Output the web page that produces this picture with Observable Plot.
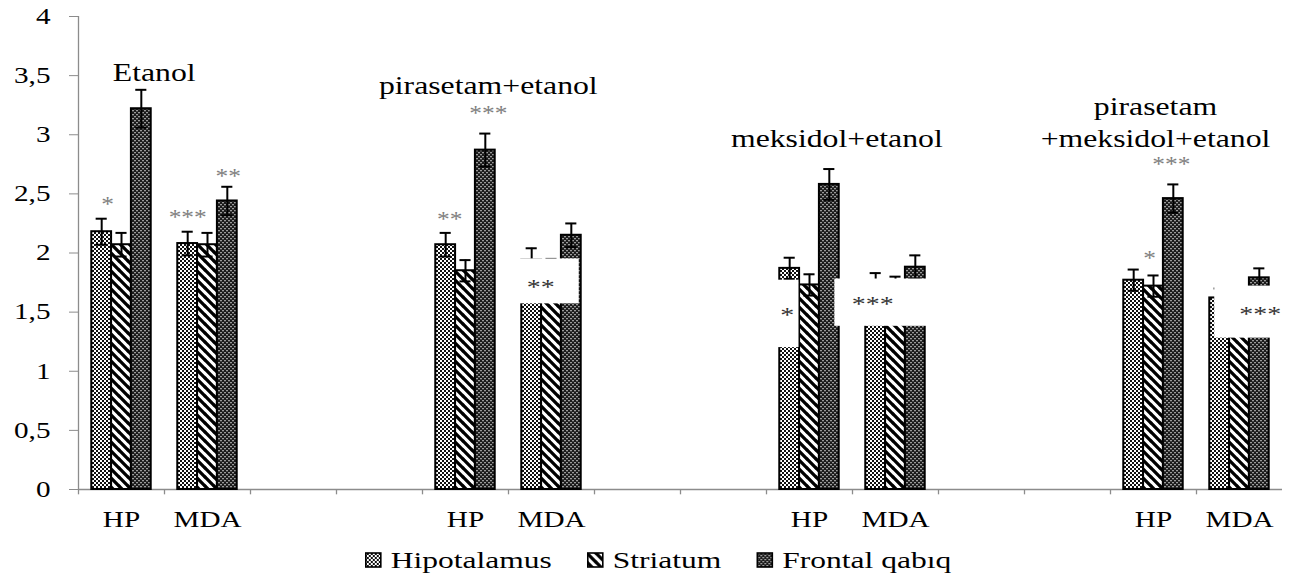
<!DOCTYPE html>
<html><head><meta charset="utf-8">
<script src="https://cdn.jsdelivr.net/npm/d3@7"></script>
<script src="https://cdn.jsdelivr.net/npm/@observablehq/plot@0.6"></script>
<style>body{margin:0;background:#fff;} svg{display:block;} #chart svg text{font-family:"Liberation Serif","Tinos","Times New Roman","DejaVu Serif",serif !important;}</style>
</head><body><div id="chart"></div><script>
// ---------------- data ----------------
const slotLabels = ["HP","MDA","","","HP","MDA","","","HP","MDA","","","HP","MDA"];
const series = ["Hipotalamus","Striatum","Frontal qabıq"];
const barSlots = [0,1,4,5,8,9,12,13]; // HP / MDA of each of the 4 groups
const hipoMean  = [2.18,2.08,2.07,1.94,1.87,1.75,1.77,1.62];
const hipoSE    = [0.11,0.10,0.10,0.10,0.09,0.08,0.09,0.08];
const striMean  = [2.07,2.07,1.85,1.86,1.73,1.72,1.72,1.60];
const striSE    = [0.10,0.10,0.09,0.09,0.09,0.08,0.09,0.08];
const frontMean = [3.22,2.44,2.87,2.15,2.58,1.88,2.46,1.79];
const frontSE   = [0.16,0.12,0.14,0.10,0.13,0.10,0.12,0.08];
const yTicks = [0,0.5,1,1.5,2,2.5,3,3.5,4];

// group titles (slot, position inside slot in bar units, value)
const titleText = ["Etanol","pirasetam+etanol","meksidol+etanol","pirasetam\n+meksidol+etanol"];
const titleSlot = [0,4,8,12];
const titlePos  = [2.65,2.15,2.38,1.1];
const titleY    = [3.54,3.43,2.98,3.115];
// significance stars
const starText = ["*","***","**","**","***","*","***"];
const starSlot = [0,1,1,4,4,12,12];
const starPos  = [0.3,0.0,2.05,0.2,2.15,0.8,1.9];
const starY    = [2.44,2.33,2.68,2.32,3.21,1.99,2.78];
// white label boxes pasted over the bars, with their stars
const boxSlot = [5,8,9,13];
const boxX1 = [-0.62,-1.1,-2.06,-0.25];
const boxX2 = [2.4,0.47,2.6,3.5];
const boxY1 = [1.57,1.20,1.38,1.28];
const boxY2 = [1.95,1.77,1.78,1.72];
const boxText = ["**","*","***","***"];
const boxTextPos = [0.46,-0.13,-0.15,2.05];
const boxTextY = [1.75,1.51,1.60,1.52];

// ---------------- tables ----------------
const means = [hipoMean, striMean, frontMean];
const ses = [hipoSE, striSE, frontSE];
const bars = [];
series.forEach((s, si) => barSlots.forEach((slot, k) =>
  bars.push({series: s, si, slot, v: means[si][k], se: ses[si][k]})));
const slotsData = slotLabels.map((label, slot) => ({slot, label}));
const titles = titleText.map((t, i) => ({t, slot: titleSlot[i], x: titlePos[i], y: titleY[i]}));
const stars = starText.map((t, i) => ({t, slot: starSlot[i], x: starPos[i], y: starY[i]}));
const boxes = boxText.map((t, i) => ({t, slot: boxSlot[i], x1: boxX1[i], x2: boxX2[i], y1: boxY1[i], y2: boxY2[i], tx: boxTextPos[i], ty: boxTextY[i]}));

const FONT = "Liberation Serif, Tinos, Times New Roman, DejaVu Serif, serif";
const xDomain = [-1.17, 3.17];
const patternId = {"Hipotalamus": "pat-hipo", "Striatum": "pat-stri", "Frontal qabıq": "pat-front"};
const AX = "#8c8c8c";

const svg = Plot.plot({
  width: 1297, height: 535,
  marginTop: 16, marginBottom: 46, marginLeft: 76, marginRight: 13,
  style: {fontFamily: FONT, fontSize: "23px", background: "white", color: "black", overflow: "visible"},
  fx: {domain: d3.range(14), paddingInner: 0, paddingOuter: 0, axis: null, label: null},
  x: {domain: xDomain, axis: null},
  y: {domain: [0, 4], axis: null},
  marks: [
    Plot.ruleY([0], {stroke: AX, strokeWidth: 1.5}),
    Plot.ruleX(slotsData, {fx: "slot", x: () => xDomain[0], y1: 0, y2: -0.045, stroke: AX, strokeWidth: 1.3}),
    Plot.ruleX([{slot: 0}], {fx: "slot", x: () => xDomain[0], y1: 0, y2: 4, stroke: AX, strokeWidth: 1.3}),
    Plot.axisY({ticks: yTicks, tickFormat: d => String(d).replace(".", ","), tickSize: 9, tickPadding: 19,
      stroke: AX, fill: "black", fontSize: 23, label: null}),
    ...series.map(s => Plot.rect(bars.filter(d => d.series === s), {
      fx: "slot", x1: d => d.si - 0.5, x2: d => d.si + 0.5, y1: 0, y2: "v",
      fill: `url(#${patternId[s]})`, stroke: "black", strokeWidth: 2})),
    Plot.ruleX(bars, {fx: "slot", x: "si", y1: d => d.v - d.se, y2: d => d.v + d.se, stroke: "black", strokeWidth: 2}),
    Plot.ruleY(bars, {fx: "slot", y: d => d.v + d.se, x1: d => d.si - 0.28, x2: d => d.si + 0.28, stroke: "black", strokeWidth: 2}),
    Plot.ruleY(bars, {fx: "slot", y: d => d.v - d.se, x1: d => d.si - 0.28, x2: d => d.si + 0.28, stroke: "black", strokeWidth: 2}),
    Plot.rect(boxes, {fx: "slot", x1: "x1", x2: "x2", y1: "y1", y2: "y2", fill: "white"}),
    Plot.text(boxes, {fx: "slot", x: "tx", y: "ty", text: "t", fontSize: 22, fill: "#333", dy: 4}),
    Plot.text(stars, {fx: "slot", x: "x", y: "y", text: "t", fontSize: 20, fill: "#808080", dy: 4}),
    Plot.text(titles, {fx: "slot", x: "x", y: "y", text: "t", fontSize: 25, lineHeight: 1.27, fill: "black"}),
    Plot.text(slotsData, {fx: "slot", x: () => 1, y: () => 0, text: "label", dy: 30, fontSize: 23, fill: "black"})
  ]
});

// patterns
const defs = d3.select(svg).insert("defs", ":first-child");
const ph = defs.append("pattern").attr("id", "pat-hipo").attr("patternUnits", "userSpaceOnUse").attr("width", 4).attr("height", 4);
ph.append("rect").attr("width", 4).attr("height", 4).attr("fill", "white");
ph.append("rect").attr("width", 2).attr("height", 2).attr("fill", "#111");
ph.append("rect").attr("x", 2).attr("y", 2).attr("width", 2).attr("height", 2).attr("fill", "#111");
const ps = defs.append("pattern").attr("id", "pat-stri").attr("patternUnits", "userSpaceOnUse").attr("width", 9).attr("height", 9);
ps.append("rect").attr("width", 9).attr("height", 9).attr("fill", "white");
ps.append("path").attr("d", "M-1,-1L10,10M-1,8L1,10M8,-1L10,1").attr("stroke", "black").attr("stroke-width", 3.3);
const pf = defs.append("pattern").attr("id", "pat-front").attr("patternUnits", "userSpaceOnUse").attr("width", 4).attr("height", 4);
pf.append("rect").attr("width", 4).attr("height", 4).attr("fill", "#1a1a1a");
pf.append("rect").attr("width", 2).attr("height", 1.3).attr("fill", "#9a9a9a");
pf.append("rect").attr("x", 2).attr("y", 2).attr("width", 2).attr("height", 1.3).attr("fill", "#9a9a9a");

document.getElementById("chart").appendChild(svg);

// widen serif text horizontally like the reference
const STRETCH = 1.27;
d3.select(svg).selectAll("text").each(function() {
  const t = this.getAttribute("transform") || "";
  const x = +(this.getAttribute("x") || 0);
  this.setAttribute("transform", `${t} translate(${x},0) scale(${STRETCH},1) translate(${-x},0)`);
});

// legend (below the plot)
const leg = d3.select("#chart").append("svg").attr("width", 1297).attr("height", 42)
  .style("font-family", FONT).style("font-size", "23px");
const LSTRETCH = 1.37;
const items = series.map(s => {
  const g = leg.append("g");
  g.append("rect").attr("x", 1).attr("y", 18).attr("width", 15).attr("height", 14)
    .attr("fill", `url(#${patternId[s]})`).attr("stroke", "black").attr("stroke-width", 1.6);
  const t = g.append("text").attr("transform", `translate(26,33) scale(${LSTRETCH},1)`).attr("fill", "black").text(s);
  const w = 26 + t.node().getComputedTextLength() * LSTRETCH;
  return {g, w};
});
const gap = 35;
const total = d3.sum(items, d => d.w) + gap * (items.length - 1);
let cx = 658 - total / 2;
items.forEach(d => { d.g.attr("transform", `translate(${cx},0)`); cx += d.w + gap; });
</script></body></html>
